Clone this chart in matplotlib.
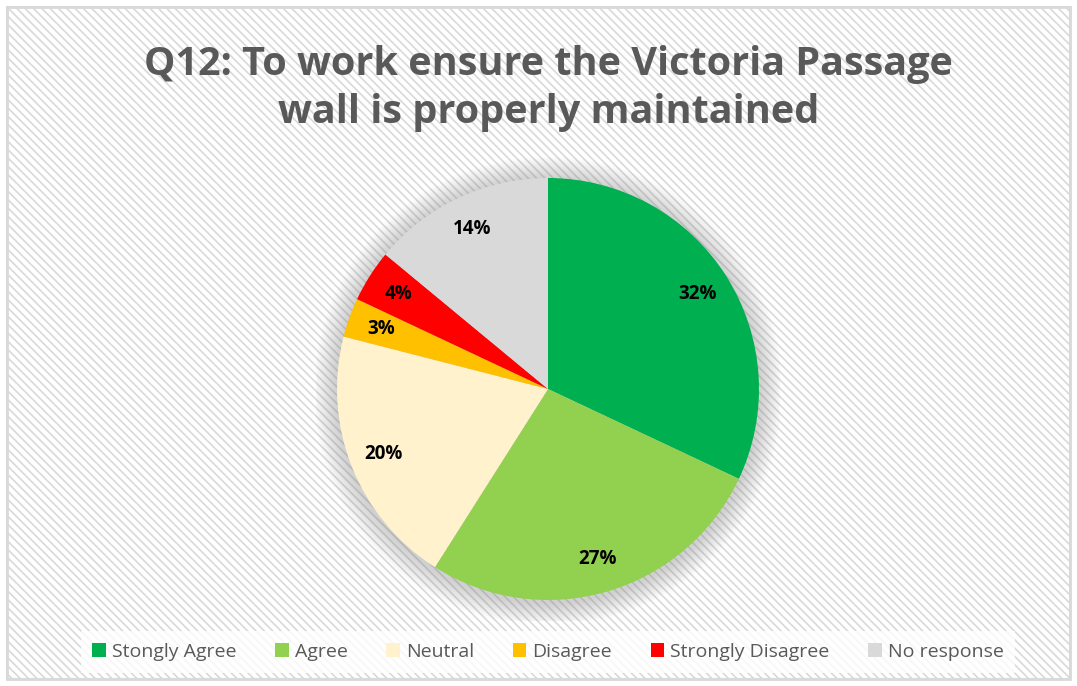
import matplotlib.pyplot as plt
from matplotlib.patches import Rectangle, Circle

labels = ['Stongly Agree', 'Agree', 'Neutral', 'Disagree', 'Strongly Disagree', 'No response']
values = [32, 27, 20, 3, 4, 14]
colors = ['#00B050', '#92D050', '#FFF2CC', '#FFC000', '#FF0000', '#D9D9D9']
title = 'Q12: To work ensure the Victoria Passage\nwall is properly maintained'

plt.rcParams['font.family'] = ['Open Sans', 'DejaVu Sans']
plt.rcParams['hatch.color'] = '#F5F5F5'
plt.rcParams['hatch.linewidth'] = 1.2

W, H = 1077, 686
fig = plt.figure(figsize=(W / 100, H / 100), dpi=100)
fig.patch.set_facecolor('white')

# hatched background with light border
bg = Rectangle((7 / W, 7 / H), 1 - 14 / W, 1 - 14 / H, transform=fig.transFigure,
               facecolor='white', edgecolor='#D9D9D9', hatch='\\\\\\\\', linewidth=1.5, zorder=-5)
fig.patches.append(bg)
border = Rectangle((7 / W, 7 / H), 1 - 14 / W, 1 - 14 / H, transform=fig.transFigure,
                   facecolor='none', edgecolor='#D9D9D9', linewidth=2, zorder=-4)
fig.patches.append(border)

fig.text(0.509, 1 - 88 / H, title, ha='center', va='center', fontsize=28.5,
         fontweight='bold', color='#595959', linespacing=1.3)

# pie axes: center (548, 389) px, radius 211 px
cx, cy, r = 548, 389, 211
half = 1.1 * r
ax = fig.add_axes([(cx - half) / W, (H - cy - half) / H, 2 * half / W, 2 * half / H])

# soft shadow
for i in range(16):
    ax.add_patch(Circle((0.0, -0.01), 1.0 + 0.007 * (16 - i), facecolor='#808080',
                        alpha=0.022, edgecolor='none', zorder=0))

wedges, texts, autotexts = ax.pie(values, colors=colors, startangle=90, counterclock=False,
                                  autopct='%d%%', pctdistance=0.84, radius=1.0,
                                  wedgeprops=dict(linewidth=0),
                                  textprops=dict(fontsize=13.5, fontweight='bold', color='black'))
for w in wedges:
    w.set_zorder(2)
for t in autotexts:
    t.set_zorder(3)
ax.set_xlim(-1.1, 1.1)
ax.set_ylim(-1.1, 1.1)
ax.axis('off')

leg = fig.legend(wedges, labels, loc='center', bbox_to_anchor=(548 / W, 1 - 652 / H), ncol=6,
                 frameon=True, fontsize=14, handlelength=0.7, handleheight=0.7,
                 handletextpad=0.3, columnspacing=2.0, borderpad=0.6, borderaxespad=0,
                 fancybox=False)
leg.get_frame().set_facecolor('white')
leg.get_frame().set_alpha(0.8)
leg.get_frame().set_edgecolor('none')
for t in leg.get_texts():
    t.set_color('#595959')

fig.savefig('out.png', dpi=100)
